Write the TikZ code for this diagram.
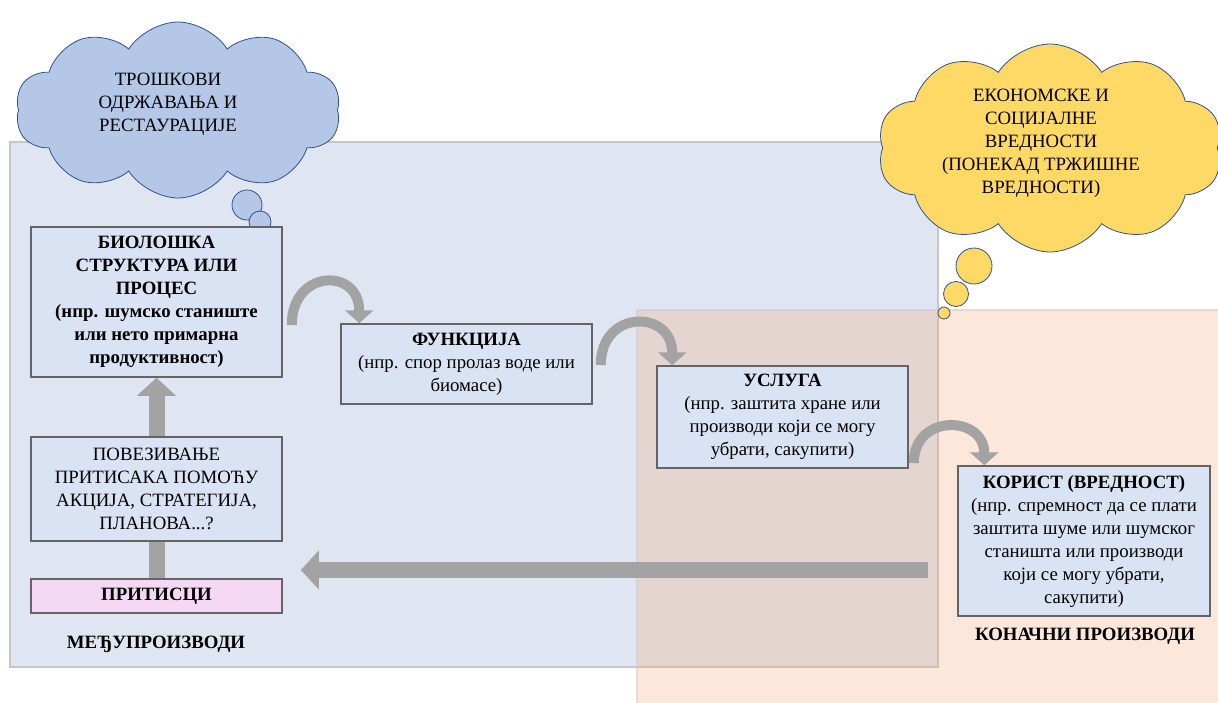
\documentclass[tikz,border=0pt]{standalone}
\usepackage{fontspec}
\setmainfont{Liberation Serif}
\usetikzlibrary{shapes.symbols, arrows.meta, positioning}
\definecolor{panelblue}{RGB}{223,230,242}
\definecolor{panelorange}{RGB}{244,177,131}
\definecolor{boxblue}{RGB}{218,227,243}
\definecolor{boxpink}{RGB}{244,216,244}
\definecolor{boxline}{RGB}{100,100,100}
\definecolor{arrowgray}{RGB}{163,163,163}
\definecolor{cloudblue}{RGB}{180,199,231}
\definecolor{cloudyellow}{RGB}{255,217,102}
\definecolor{cloudline}{RGB}{47,82,143}

\begin{document}
\begin{tikzpicture}[x=1pt, y=1pt,
    every node/.style={font=\fontsize{18.8}{23}\selectfont},
    infobox/.style={draw=boxline, line width=1.5pt, fill=boxblue, minimum width=251,
                    align=center, inner sep=2pt},
    boldtext/.style={font=\fontsize{18.8}{23}\selectfont\bfseries},
    thought/.style={cloud, cloud puffs=10, cloud puff arc=115, draw=cloudline,
                    line width=0.8pt, inner sep=0pt},
    bubble/.style={circle, draw=cloudline, line width=0.8pt, inner sep=0pt},
    blockarrow/.style={line width=16pt, arrowgray,
                       -{Triangle[width=38pt, length=18pt]}},
    bendarrow/.style={line width=10pt, arrowgray,
                      -{Triangle[width=28pt, length=13pt]}}]
  \useasboundingbox (0,0) rectangle (1218,-702);
  % panels
  \fill[panelblue] (10,-142) rectangle (938,-667);
  \draw[gray!45, line width=1.5pt] (10,-142) rectangle (938,-667);
  \fill[panelorange, opacity=0.3] (637,-310) rectangle (1222,-706);
  \draw[gray!40, opacity=0.6, line width=1.5pt] (637,-706) -- (637,-310) -- (1222,-310);

  % clouds
  \node[thought, fill=cloudblue, minimum width=325, minimum height=176]
    (costs) at (178,-110) {};
  \node[align=center] (coststext) at (168,-104) {ТРОШКОВИ\\ОДРЖАВАЊА И\\РЕСТАУРАЦИЈЕ};
  \node[bubble, fill=cloudblue, minimum size=30] (cb1) at (247,-205) {};
  \node[bubble, fill=cloudblue, minimum size=22] (cb2) at (260,-222) {};

  \node[thought, fill=cloudyellow, minimum width=345, minimum height=208]
    (values) at (1050,-148) {};
  \node[align=center] (valuestext) at (1041,-143)
    {ЕКОНОМСКЕ И\\СОЦИЈАЛНЕ\\ВРЕДНОСТИ\\(ПОНЕКАД ТРЖИШНЕ\\ВРЕДНОСТИ)};
  \node[bubble, fill=cloudyellow, minimum size=36] (yb1) at (974,-266) {};
  \node[bubble, fill=cloudyellow, minimum size=25] (yb2) at (956,-294) {};
  \node[bubble, fill=cloudyellow, minimum size=12] (yb3) at (944,-313) {};

  % chain boxes
  \node[infobox, boldtext, minimum height=150]
    (bio) at (156.5,-302) {БИОЛОШКА\\СТРУКТУРА ИЛИ\\ПРОЦЕС\\(нпр. шумско станиште\\или нето примарна\\продуктивност)};
  \node[infobox, minimum height=80]
    (func) at (466.5,-364) {\textbf{ФУНКЦИЈА}\\(нпр. спор пролаз воде или\\биомасе)};
  \node[infobox, minimum height=102]
    (serv) at (782.5,-417) {\textbf{УСЛУГА}\\(нпр. заштита хране или\\производи који се могу\\убрати, сакупити)};
  \node[infobox, minimum height=150, minimum width=252]
    (gain) at (1084,-541) {\textbf{КОРИСТ (ВРЕДНОСТ)}\\(нпр. спремност да се плати\\заштита шуме или шумског\\станишта или производи\\који се могу убрати,\\сакупити)};
  \node[infobox, minimum height=104]
    (link) at (156.5,-489) {ПОВЕЗИВАЊЕ\\ПРИТИСАКА ПОМОЋУ\\АКЦИЈА, СТРАТЕГИЈА,\\ПЛАНОВА...?};
  \node[infobox, boldtext, fill=boxpink, minimum height=34]
    (press) at (156.5,-596) {ПРИТИСЦИ};

  \node[boldtext] (inter) at (156,-644) {МЕЂУПРОИЗВОДИ};
  \node[boldtext] (final) at (1085,-636) {КОНАЧНИ ПРОИЗВОДИ};

  % arrows
  \draw[line width=16pt, arrowgray] (press.north) -- (link.south);
  \draw[blockarrow] (link.north) -- (bio.south);
  \draw[blockarrow] ([shift={(-29,-29)}]gain.west) -- ([shift={(18,26)}]press.east);
  \draw[bendarrow] ([shift={(9,-23)}]bio.east)
    .. controls +(0,56) and +(0,56) .. ([xshift=19pt]func.north west);
  \draw[bendarrow] ([shift={(8,-1)}]func.east)
    .. controls +(0,56) and +(0,56) .. ([xshift=16pt]serv.north west);
  \draw[bendarrow] ([shift={(5,-46)}]serv.east)
    .. controls +(0,50) and +(0,50) .. ([xshift=27pt]gain.north west);
\end{tikzpicture}
\end{document}
